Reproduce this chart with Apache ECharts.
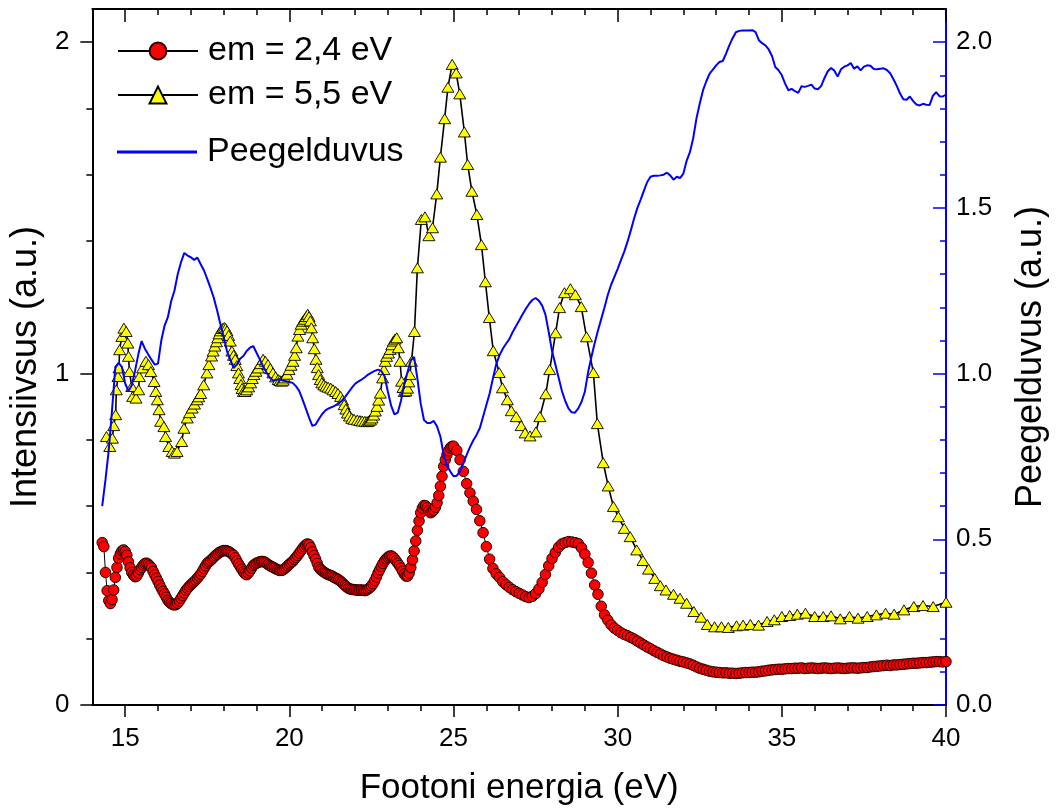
<!DOCTYPE html>
<html>
<head>
<meta charset="utf-8">
<script src="https://cdn.jsdelivr.net/npm/echarts@6/dist/echarts.min.js"></script>
<style>
  html, body { margin: 0; padding: 0; background: #ffffff; }
  #chart { width: 1057px; height: 811px; }
</style>
</head>
<body>
<div id="chart"></div>
<script>
// Photon energies (eV) of the em = 2,4 eV measurement points
const energyEm24 = [
  14.30, 14.35, 14.40, 14.45, 14.50, 14.55, 14.60, 14.65, 14.70, 14.75, 14.80, 14.85, 14.90, 14.95,
  15.00, 15.05, 15.10, 15.15, 15.20, 15.25, 15.30, 15.35, 15.40, 15.45, 15.50, 15.55, 15.60, 15.65, 15.70, 15.75, 15.80, 15.85, 15.90, 15.95,
  16.00, 16.05, 16.10, 16.15, 16.20, 16.25, 16.30, 16.35, 16.40, 16.45, 16.50, 16.55, 16.60, 16.65, 16.70, 16.75, 16.80, 16.85, 16.90, 16.95,
  17.00, 17.05, 17.10, 17.15, 17.20, 17.25, 17.30, 17.35, 17.40, 17.45, 17.50, 17.55, 17.60, 17.65, 17.70, 17.75, 17.80, 17.85, 17.90, 17.95,
  18.00, 18.05, 18.10, 18.15, 18.20, 18.25, 18.30, 18.35, 18.40, 18.45, 18.50, 18.55, 18.60, 18.65, 18.70, 18.75, 18.80, 18.85, 18.90, 18.95,
  19.00, 19.05, 19.10, 19.15, 19.20, 19.25, 19.30, 19.35, 19.40, 19.45, 19.50, 19.55, 19.60, 19.65, 19.70, 19.75, 19.80, 19.85, 19.90, 19.95,
  20.00, 20.05, 20.10, 20.15, 20.20, 20.25, 20.30, 20.35, 20.40, 20.45, 20.50, 20.55, 20.60, 20.65, 20.70, 20.75, 20.80, 20.85, 20.90, 20.95,
  21.00, 21.05, 21.10, 21.15, 21.20, 21.25, 21.30, 21.35, 21.40, 21.45, 21.50, 21.55, 21.60, 21.65, 21.70, 21.75, 21.80, 21.85, 21.90, 21.95,
  22.00, 22.05, 22.10, 22.15, 22.20, 22.25, 22.30, 22.35, 22.40, 22.45, 22.50, 22.55, 22.60, 22.65, 22.70, 22.75, 22.80, 22.85, 22.90, 22.95,
  23.00, 23.05, 23.10, 23.15, 23.20, 23.25, 23.30, 23.35, 23.40, 23.45, 23.50, 23.55, 23.60, 23.65, 23.70, 23.75, 23.80, 23.85, 23.90, 23.95,
  24.00, 24.05, 24.10, 24.15, 24.20, 24.25, 24.30, 24.35, 24.40, 24.45, 24.50, 24.55, 24.60, 24.65, 24.70, 24.75, 24.80, 24.85, 24.90, 24.95,
  25.0, 25.1, 25.2, 25.3, 25.4, 25.5, 25.6, 25.7, 25.8, 25.9,
  26.0, 26.1, 26.2, 26.3, 26.4, 26.5, 26.6, 26.7, 26.8, 26.9,
  27.0, 27.1, 27.2, 27.3, 27.4, 27.5, 27.6, 27.7, 27.8, 27.9,
  28.0, 28.1, 28.2, 28.3, 28.4, 28.5, 28.6, 28.7, 28.8, 28.9,
  29.0, 29.1, 29.2, 29.3, 29.4, 29.5, 29.6, 29.7, 29.8, 29.9,
  30.0, 30.1, 30.2, 30.3, 30.4, 30.5, 30.6, 30.7, 30.8, 30.9,
  31.0, 31.1, 31.2, 31.3, 31.4, 31.5, 31.6, 31.7, 31.8, 31.9,
  32.0, 32.1, 32.2, 32.3, 32.4, 32.5, 32.6, 32.7, 32.8, 32.9,
  33.0, 33.1, 33.2, 33.3, 33.4, 33.5, 33.6, 33.7, 33.8, 33.9,
  34.0, 34.1, 34.2, 34.3, 34.4, 34.5, 34.6, 34.7, 34.8, 34.9,
  35.0, 35.1, 35.2, 35.3, 35.4, 35.5, 35.6, 35.7, 35.8, 35.9,
  36.0, 36.1, 36.2, 36.3, 36.4, 36.5, 36.6, 36.7, 36.8, 36.9,
  37.0, 37.1, 37.2, 37.3, 37.4, 37.5, 37.6, 37.7, 37.8, 37.9,
  38.0, 38.1, 38.2, 38.3, 38.4, 38.5, 38.6, 38.7, 38.8, 38.9,
  39.0, 39.1, 39.2, 39.3, 39.4, 39.5, 39.6, 39.7, 39.8, 39.9,
  40.0
];

// Excitation spectrum, emission at 2,4 eV (left axis)
const em24 = [
  0.490, 0.478, 0.400, 0.345, 0.315, 0.306, 0.318, 0.347, 0.385, 0.415, 0.443, 0.456, 0.465, 0.468,
  0.463, 0.452, 0.432, 0.414, 0.400, 0.392, 0.387, 0.389, 0.398, 0.408, 0.415, 0.422, 0.427, 0.428, 0.425, 0.420, 0.414, 0.403, 0.393, 0.383,
  0.373, 0.362, 0.352, 0.343, 0.335, 0.325, 0.316, 0.310, 0.306, 0.303, 0.302, 0.303, 0.307, 0.314, 0.322, 0.330, 0.338, 0.346, 0.352, 0.358,
  0.363, 0.368, 0.372, 0.377, 0.383, 0.389, 0.395, 0.403, 0.412, 0.420, 0.428, 0.432, 0.436, 0.441, 0.446, 0.451, 0.455, 0.459, 0.462, 0.464,
  0.466, 0.466, 0.465, 0.463, 0.460, 0.456, 0.452, 0.444, 0.435, 0.426, 0.418, 0.410, 0.402, 0.396, 0.393, 0.398, 0.405, 0.413, 0.421, 0.425,
  0.428, 0.430, 0.432, 0.433, 0.433, 0.431, 0.428, 0.424, 0.421, 0.418, 0.416, 0.413, 0.410, 0.408, 0.406, 0.406, 0.407, 0.411, 0.415, 0.420,
  0.425, 0.429, 0.433, 0.439, 0.445, 0.451, 0.458, 0.465, 0.472, 0.478, 0.483, 0.486, 0.484, 0.475, 0.462, 0.451, 0.440, 0.427, 0.415, 0.409,
  0.405, 0.401, 0.398, 0.395, 0.393, 0.391, 0.389, 0.386, 0.383, 0.381, 0.378, 0.374, 0.370, 0.365, 0.360, 0.356, 0.352, 0.350, 0.349, 0.348,
  0.348, 0.347, 0.346, 0.347, 0.347, 0.346, 0.345, 0.347, 0.350, 0.354, 0.359, 0.366, 0.375, 0.386, 0.398, 0.408, 0.418, 0.427, 0.435, 0.441,
  0.446, 0.449, 0.450, 0.447, 0.442, 0.435, 0.428, 0.421, 0.413, 0.404, 0.395, 0.389, 0.389, 0.398, 0.415, 0.438, 0.465, 0.495, 0.527, 0.555,
  0.580, 0.594, 0.602, 0.601, 0.595, 0.586, 0.580, 0.583, 0.588, 0.597, 0.610, 0.632, 0.660, 0.690, 0.720, 0.740, 0.755, 0.767, 0.776, 0.780,
  0.781, 0.768, 0.740, 0.705, 0.668, 0.640, 0.615, 0.590, 0.556, 0.520,
  0.478, 0.440, 0.412, 0.396, 0.385, 0.372, 0.363, 0.355, 0.348, 0.342,
  0.337, 0.332, 0.327, 0.324, 0.328, 0.336, 0.350, 0.370, 0.394, 0.420,
  0.442, 0.460, 0.476, 0.486, 0.490, 0.493, 0.492, 0.490, 0.487, 0.474,
  0.455, 0.430, 0.398, 0.362, 0.334, 0.298, 0.272, 0.256, 0.242, 0.232,
  0.225, 0.218, 0.213, 0.209, 0.204, 0.199, 0.193, 0.187, 0.181, 0.175,
  0.170, 0.164, 0.159, 0.154, 0.149, 0.145, 0.141, 0.138, 0.135, 0.132,
  0.130, 0.127, 0.124, 0.120, 0.115, 0.111, 0.108, 0.105, 0.102, 0.100,
  0.099, 0.098, 0.097, 0.097, 0.096, 0.096, 0.095, 0.096, 0.097, 0.098,
  0.098, 0.099, 0.099, 0.100, 0.102, 0.103, 0.105, 0.106, 0.107, 0.108,
  0.108, 0.109, 0.110, 0.110, 0.111, 0.111, 0.112, 0.110, 0.111, 0.112,
  0.111, 0.110, 0.111, 0.112, 0.111, 0.110, 0.111, 0.112, 0.111, 0.110,
  0.111, 0.112, 0.112, 0.111, 0.112, 0.113, 0.113, 0.115, 0.116, 0.117,
  0.118, 0.119, 0.120, 0.119, 0.121, 0.121, 0.122, 0.123, 0.124, 0.125,
  0.126, 0.126, 0.127, 0.128, 0.128, 0.129, 0.130, 0.131, 0.131, 0.130,
  0.131
];

// Photon energies (eV) of the reflectance curve
const energyRefl = [
  14.3, 14.4, 14.5, 14.6, 14.7, 14.8, 14.9,
  15.0, 15.1, 15.2, 15.3, 15.4, 15.5, 15.6, 15.7, 15.8, 15.9,
  16.0, 16.1, 16.2, 16.3, 16.4, 16.5, 16.6, 16.7, 16.8, 16.9,
  17.0, 17.1, 17.2, 17.3, 17.4, 17.5, 17.6, 17.7, 17.8, 17.9,
  18.0, 18.1, 18.2, 18.3, 18.4, 18.5, 18.6, 18.7, 18.8, 18.9,
  19.0, 19.1, 19.2, 19.3, 19.4, 19.5, 19.6, 19.7, 19.8, 19.9,
  20.0, 20.1, 20.2, 20.3, 20.4, 20.5, 20.6, 20.7, 20.8, 20.9,
  21.0, 21.1, 21.2, 21.3, 21.4, 21.5, 21.6, 21.7, 21.8, 21.9,
  22.0, 22.1, 22.2, 22.3, 22.4, 22.5, 22.6, 22.7, 22.8, 22.9,
  23.0, 23.1, 23.2, 23.3, 23.4, 23.5, 23.6, 23.7, 23.8, 23.9,
  24.0, 24.1, 24.2, 24.3, 24.4, 24.5, 24.6, 24.7, 24.8, 24.9,
  25.0, 25.1, 25.2, 25.3, 25.4, 25.5, 25.6, 25.7, 25.8, 25.9,
  26.0, 26.1, 26.2, 26.3, 26.4, 26.5, 26.6, 26.7, 26.8, 26.9,
  27.0, 27.1, 27.2, 27.3, 27.4, 27.5, 27.6, 27.7, 27.8, 27.9,
  28.0, 28.1, 28.2, 28.3, 28.4, 28.5, 28.6, 28.7, 28.8, 28.9,
  29.0, 29.1, 29.2, 29.3, 29.4, 29.5, 29.6, 29.7, 29.8, 29.9,
  30.0, 30.1, 30.2, 30.3, 30.4, 30.5, 30.6, 30.7, 30.8, 30.9,
  31.0, 31.1, 31.2, 31.3, 31.4, 31.5, 31.6, 31.7, 31.8, 31.9,
  32.0, 32.1, 32.2, 32.3, 32.4, 32.5, 32.6, 32.7, 32.8, 32.9,
  33.0, 33.1, 33.2, 33.3, 33.4, 33.5, 33.6, 33.7, 33.8, 33.9,
  34.0, 34.1, 34.2, 34.3, 34.4, 34.5, 34.6, 34.7, 34.8, 34.9,
  35.0, 35.1, 35.2, 35.3, 35.4, 35.5, 35.6, 35.7, 35.8, 35.9,
  36.0, 36.1, 36.2, 36.3, 36.4, 36.5, 36.6, 36.7, 36.8, 36.9,
  37.0, 37.1, 37.2, 37.3, 37.4, 37.5, 37.6, 37.7, 37.8, 37.9,
  38.0, 38.1, 38.2, 38.3, 38.4, 38.5, 38.6, 38.7, 38.8, 38.9,
  39.0, 39.1, 39.2, 39.3, 39.4, 39.5, 39.6, 39.7, 39.8, 39.9,
  40.0
];

// Reflectance (right axis)
const reflectance = [
  0.600, 0.680, 0.770, 0.890, 1.020, 1.032, 1.020,
  0.970, 0.947, 0.965, 1.008, 1.058, 1.098, 1.075, 1.058, 1.042, 1.027,
  1.030, 1.100, 1.145, 1.170, 1.218, 1.250, 1.300, 1.336, 1.364, 1.356,
  1.351, 1.343, 1.350, 1.330, 1.311, 1.285, 1.258, 1.228, 1.190, 1.149,
  1.110, 1.068, 1.043, 1.017, 1.027, 1.045, 1.053, 1.068, 1.078, 1.083,
  1.063, 1.043, 1.022, 1.004, 0.988, 0.979, 0.981, 0.983, 0.979, 0.977,
  0.975, 0.972, 0.962, 0.948, 0.922, 0.895, 0.867, 0.842, 0.846, 0.863,
  0.878, 0.889, 0.895, 0.899, 0.904, 0.910, 0.918, 0.930, 0.943, 0.957,
  0.969, 0.976, 0.982, 0.989, 0.997, 1.003, 1.008, 1.012, 1.008, 0.992,
  0.946, 0.903, 0.877, 0.882, 0.918, 0.968, 1.005, 1.040, 1.050, 0.985,
  0.910, 0.860, 0.851, 0.851, 0.857, 0.840, 0.810, 0.755, 0.722, 0.705,
  0.690, 0.692, 0.705, 0.730, 0.755, 0.778, 0.798, 0.815, 0.835, 0.870,
  0.905, 0.940, 0.985, 1.028, 1.055, 1.075, 1.090, 1.104, 1.125, 1.143,
  1.160, 1.178, 1.195, 1.210, 1.222, 1.228, 1.220, 1.205, 1.178, 1.125,
  1.068, 1.028, 0.988, 0.948, 0.918, 0.895, 0.883, 0.882, 0.895, 0.915,
  0.945, 1.005, 1.050, 1.092, 1.130, 1.165, 1.200, 1.238, 1.268, 1.292,
  1.316, 1.342, 1.368, 1.398, 1.432, 1.468, 1.500, 1.525, 1.552, 1.578,
  1.594, 1.597, 1.597, 1.598, 1.600, 1.606, 1.598, 1.585, 1.594, 1.590,
  1.603, 1.642, 1.668, 1.710, 1.770, 1.815, 1.855, 1.882, 1.905, 1.917,
  1.930, 1.940, 1.943, 1.965, 1.990, 2.012, 2.030, 2.034, 2.035, 2.035,
  2.035, 2.036, 2.030, 2.006, 1.997, 1.990, 1.978, 1.958, 1.925, 1.915,
  1.900, 1.875, 1.855, 1.859, 1.852, 1.847, 1.867, 1.865, 1.868, 1.872,
  1.860, 1.858, 1.868, 1.892, 1.912, 1.922, 1.914, 1.896, 1.918, 1.926,
  1.930, 1.937, 1.920, 1.927, 1.915, 1.926, 1.930, 1.929, 1.919, 1.918,
  1.920, 1.921, 1.916, 1.906, 1.888, 1.868, 1.845, 1.828, 1.826, 1.836,
  1.822, 1.812, 1.809, 1.814, 1.811, 1.810, 1.838, 1.849, 1.837, 1.836,
  1.842
];

// Photon energies (eV) of the em = 5,5 eV measurement points
const energyEm55 = [
  14.43, 14.53, 14.61, 14.65, 14.71, 14.73, 14.78, 14.81, 14.83, 14.90, 14.96,
  15.03, 15.08, 15.10, 15.13, 15.20, 15.23, 15.33, 15.41, 15.43, 15.53, 15.63, 15.71, 15.78, 15.88, 15.93, 15.98,
  16.03, 16.08, 16.18, 16.23, 16.33, 16.43, 16.50, 16.58, 16.72, 16.79, 16.89,
  16.96, 17.04, 17.11, 17.19, 17.24, 17.30, 17.39, 17.49, 17.55, 17.63, 17.68, 17.73, 17.78, 17.82, 17.86, 17.90, 17.96,
  18.02, 18.06, 18.10, 18.15, 18.20, 18.25, 18.30, 18.35, 18.40, 18.45, 18.49, 18.53, 18.56, 18.60, 18.65, 18.70, 18.76, 18.82, 18.87, 18.92, 18.98,
  19.05, 19.12, 19.20, 19.27, 19.35, 19.42, 19.50, 19.58, 19.66, 19.71, 19.76, 19.81, 19.86, 19.93, 19.99,
  20.05, 20.11, 20.16, 20.21, 20.26, 20.31, 20.36, 20.41, 20.46, 20.51, 20.56, 20.60, 20.64, 20.67, 20.71, 20.76, 20.81, 20.85, 20.89, 20.94, 20.99,
  21.05, 21.11, 21.18, 21.26, 21.33, 21.41, 21.48, 21.56, 21.62, 21.67, 21.72, 21.77, 21.83, 21.90, 21.97,
  22.07, 22.15, 22.22, 22.30, 22.37, 22.42, 22.47, 22.52, 22.57, 22.62, 22.67, 22.72, 22.77, 22.84, 22.88, 22.92, 22.96,
  23.02, 23.07, 23.12, 23.17, 23.22, 23.27, 23.32, 23.37, 23.42, 23.46, 23.50, 23.55, 23.60, 23.64, 23.67, 23.72, 23.81, 23.90,
  24.02, 24.13, 24.25, 24.36, 24.49, 24.60, 24.73, 24.83, 24.96,
  25.08, 25.19, 25.33, 25.43, 25.56, 25.71, 25.85, 25.97,
  26.09, 26.21, 26.39, 26.49, 26.64, 26.76, 26.91,
  27.06, 27.18, 27.33, 27.51, 27.63, 27.81, 27.93,
  28.11, 28.23, 28.38, 28.56, 28.71, 28.89,
  29.05, 29.26, 29.38, 29.56, 29.71, 29.87,
  30.02, 30.20, 30.38, 30.58, 30.77, 30.94,
  31.13, 31.30, 31.47, 31.70, 31.90,
  32.10, 32.32, 32.54, 32.73, 32.95,
  33.16, 33.37, 33.62, 33.82,
  34.04, 34.29, 34.55, 34.77,
  35.00, 35.24, 35.47, 35.72,
  36.00, 36.26, 36.50, 36.78,
  37.06, 37.32, 37.60, 37.88,
  38.16, 38.42, 38.72,
  39.02, 39.30, 39.61, 40.00
];

// Excitation spectrum, emission at 5,5 eV (left axis)
const em55 = [
  0.810, 0.780, 0.805, 0.843, 0.876, 0.951, 0.991, 1.017, 1.072, 1.112, 1.137,
  1.127, 1.092, 1.052, 1.006, 0.961, 0.931, 0.926, 0.951, 0.991, 1.017, 1.037, 1.027, 1.006, 0.976, 0.946, 0.921,
  0.891, 0.856, 0.840, 0.810, 0.780, 0.765, 0.760, 0.765, 0.795, 0.835, 0.866,
  0.882, 0.896, 0.908, 0.921, 0.930, 0.940, 0.966, 1.002, 1.027, 1.053, 1.068, 1.083, 1.096, 1.108, 1.120, 1.129, 1.136,
  1.139, 1.136, 1.129, 1.115, 1.098, 1.068, 1.055, 1.043, 1.024, 1.002, 0.985, 0.967, 0.955, 0.946, 0.946, 0.951, 0.960, 0.972, 0.985, 0.997, 1.007,
  1.017, 1.030, 1.043, 1.037, 1.027, 1.015, 1.002, 0.990, 0.982, 0.979, 0.977, 0.980, 0.987, 0.998, 1.012,
  1.025, 1.037, 1.055, 1.078, 1.113, 1.133, 1.149, 1.158, 1.164, 1.172, 1.179, 1.172, 1.159, 1.138, 1.108, 1.075, 1.043, 1.018, 0.997, 0.982, 0.972,
  0.966, 0.962, 0.959, 0.956, 0.951, 0.946, 0.940, 0.931, 0.920, 0.906, 0.893, 0.881, 0.872, 0.865, 0.862,
  0.860, 0.858, 0.857, 0.856, 0.855, 0.857, 0.860, 0.866, 0.875, 0.887, 0.901, 0.920, 0.941, 0.987, 1.012, 1.037, 1.052,
  1.062, 1.073, 1.087, 1.098, 1.104, 1.108, 1.078, 1.037, 0.977, 0.958, 0.946, 0.948, 0.956, 0.975, 0.997, 1.037, 1.127, 1.319,
  1.465, 1.473, 1.416, 1.440, 1.542, 1.653, 1.769, 1.864, 1.933,
  1.907, 1.844, 1.729, 1.631, 1.550, 1.480, 1.389, 1.277,
  1.169, 1.069, 1.003, 0.957, 0.921, 0.888, 0.870,
  0.843, 0.821, 0.812, 0.824, 0.870, 0.939, 1.012,
  1.123, 1.199, 1.244, 1.256, 1.238, 1.202,
  1.111, 1.003, 0.849, 0.731, 0.661, 0.599,
  0.568, 0.533, 0.508, 0.468, 0.436, 0.410,
  0.382, 0.360, 0.347, 0.334, 0.322,
  0.307, 0.282, 0.265, 0.243, 0.236,
  0.236, 0.234, 0.239, 0.241,
  0.243, 0.241, 0.252, 0.257,
  0.267, 0.270, 0.274, 0.277,
  0.267, 0.267, 0.269, 0.260,
  0.267, 0.262, 0.267, 0.272,
  0.277, 0.274, 0.287,
  0.297, 0.300, 0.297, 0.310
];

// Tick positions
const xTicks = [15, 20, 25, 30, 35, 40];
const leftTicks = [0, 1, 2];
const rightTicks = [0, 0.5, 1, 1.5, 2];

const FONT = "'Liberation Sans', Arial, Helvetica, sans-serif";
const pairs = (xs, ys) => xs.slice(0, Math.min(xs.length, ys.length)).map((x, i) => [x, ys[i]]);

const chart = echarts.init(document.getElementById('chart'), null, { renderer: 'canvas' });

const legendText = { fontSize: 34, fontFamily: FONT, color: '#000', lineHeight: 34, padding: [0, 0, 0, 5] };
const legendBase = { left: 117, itemWidth: 80, itemHeight: 21, padding: 0, selectedMode: false, textStyle: legendText };

const blackTick = { color: '#000', width: 1.5 };
const blueTick = { color: '#0000ff', width: 1.5 };

chart.setOption({
  animation: false,
  backgroundColor: '#ffffff',
  grid: { left: 91, right: 104, top: 9, bottom: 106, containLabel: false },
  legend: [
    Object.assign({}, legendBase, { top: 34, data: ['em = 2,4 eV'] }),
    Object.assign({}, legendBase, { top: 78, data: ['em = 5,5 eV'] }),
    Object.assign({}, legendBase, { top: 135, itemHeight: 3, data: [{ name: 'Peegelduvus', icon: 'rect' }] })
  ],
  xAxis: [
    {
      type: 'value', position: 'bottom', min: 14, max: 40, splitNumber: 5,
      name: 'Footoni energia (eV)', nameLocation: 'middle', nameGap: 66,
      nameTextStyle: { fontSize: 35, fontFamily: FONT, color: '#000' },
      axisLine: { show: true, onZero: false, lineStyle: { color: '#000', width: 2 } },
      axisTick: { show: true, inside: false, length: 12, customValues: xTicks, lineStyle: blackTick },
      minorTick: { show: true, splitNumber: 5, length: 6, lineStyle: blackTick },
      axisLabel: { show: true, customValues: xTicks, margin: 21, fontSize: 26, fontFamily: FONT, color: '#000' },
      splitLine: { show: false }
    },
    {
      type: 'value', position: 'top', min: 14, max: 40, splitNumber: 5,
      axisLine: { show: true, onZero: false, lineStyle: { color: '#000', width: 2 } },
      axisTick: { show: true, inside: true, length: 13, customValues: xTicks, lineStyle: blackTick },
      minorTick: { show: true, splitNumber: 5, length: 6, lineStyle: blackTick },
      axisLabel: { show: false },
      splitLine: { show: false }
    }
  ],
  yAxis: [
    {
      type: 'value', position: 'left', min: 0, max: 2.1, interval: 1,
      name: 'Intensiivsus (a.u.)', nameLocation: 'middle', nameRotate: 90, nameGap: 48,
      nameTextStyle: { fontSize: 36, fontFamily: FONT, color: '#000', padding: [0, 20, 0, 0] },
      axisLine: { show: true, onZero: false, lineStyle: { color: '#000', width: 2 } },
      axisTick: { show: true, inside: false, length: 12, customValues: leftTicks, lineStyle: blackTick },
      minorTick: { show: true, splitNumber: 5, length: 6, lineStyle: blackTick },
      axisLabel: { show: true, customValues: leftTicks, margin: 23, fontSize: 26, fontFamily: FONT, color: '#000' },
      splitLine: { show: false }
    },
    {
      type: 'value', position: 'right', min: 0, max: 2.1, interval: 0.5,
      name: 'Peegelduvus (a.u.)', nameLocation: 'middle', nameRotate: 90, nameGap: 67,
      nameTextStyle: { fontSize: 36, fontFamily: FONT, color: '#000' },
      axisLine: { show: true, onZero: false, lineStyle: { color: '#0000ff', width: 2 } },
      axisTick: { show: true, inside: true, length: 13, customValues: rightTicks, lineStyle: blueTick },
      minorTick: { show: true, splitNumber: 5, length: 6, lineStyle: blueTick },
      axisLabel: {
        show: true, customValues: rightTicks, margin: 10, fontSize: 26, fontFamily: FONT, color: '#000',
        formatter: (v) => Number(v).toFixed(1)
      },
      splitLine: { show: false }
    }
  ],
  series: [
    {
      name: 'em = 2,4 eV', type: 'line', xAxisIndex: 0, yAxisIndex: 0,
      data: pairs(energyEm24, em24),
      symbol: 'circle', symbolSize: 10.5, showSymbol: true,
      lineStyle: { color: '#000', width: 1 },
      itemStyle: { color: '#ff0000', borderColor: '#2a0000', borderWidth: 1 },
      emphasis: { disabled: true }, z: 2
    },
    {
      name: 'em = 5,5 eV', type: 'line', xAxisIndex: 0, yAxisIndex: 0,
      data: pairs(energyEm55, em55),
      symbol: 'triangle', symbolSize: [12, 10], showSymbol: true,
      lineStyle: { color: '#000', width: 1.6 },
      itemStyle: { color: '#ffff00', borderColor: '#000', borderWidth: 0.9 },
      emphasis: { disabled: true }, z: 3
    },
    {
      name: 'Peegelduvus', type: 'line', xAxisIndex: 0, yAxisIndex: 1,
      data: pairs(energyRefl, reflectance),
      symbol: 'none', showSymbol: false,
      lineStyle: { color: '#0000ff', width: 2 },
      itemStyle: { color: '#0000ff' },
      emphasis: { disabled: true }, z: 4
    }
  ]
});
</script>
</body>
</html>
